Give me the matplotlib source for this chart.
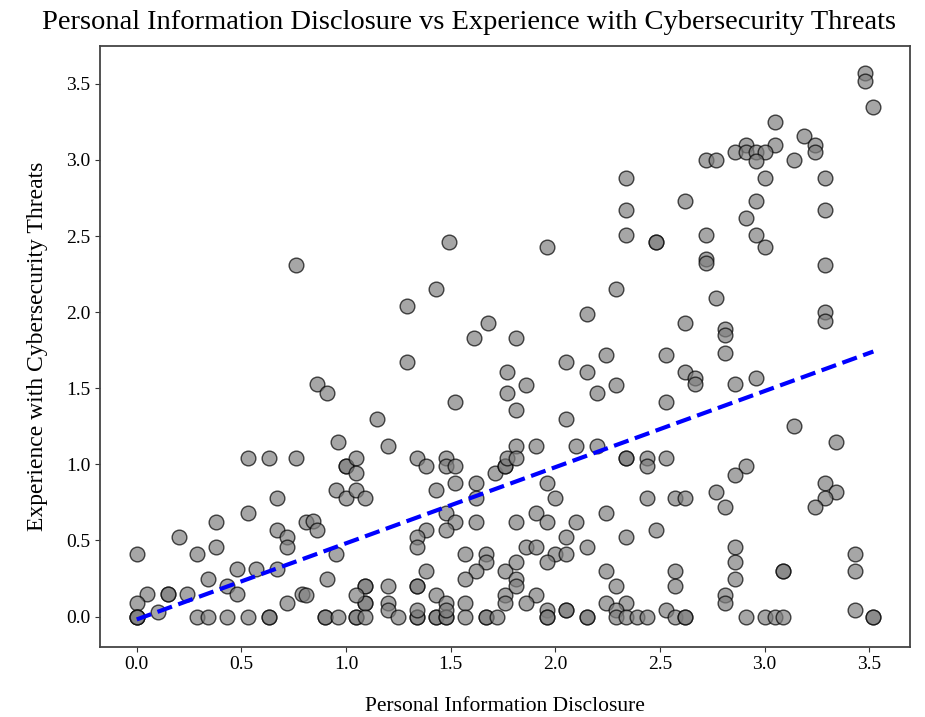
import numpy as np
import matplotlib.pyplot as plt

plt.rcParams['font.family'] = ['Liberation Serif', 'DejaVu Serif']

# (disclosure, threats) pairs
top_pts = [(3.48, 3.57), (3.48, 3.52), (3.52, 3.35), (3.05, 3.25), (3.19, 3.16), (3.24, 3.10),
           (3.24, 3.05), (2.91, 3.10), (3.05, 3.10), (2.86, 3.05), (2.91, 3.05), (2.96, 3.05),
           (3.00, 3.05), (2.96, 2.99), (2.72, 3.00), (2.77, 3.00), (3.14, 3.00), (3.00, 2.88),
           (3.29, 2.88), (2.34, 2.88), (2.62, 2.73), (2.34, 2.67), (2.96, 2.73), (2.91, 2.62),
           (3.29, 2.67), (2.96, 2.51), (3.00, 2.43), (2.72, 2.51), (2.34, 2.51), (2.48, 2.46),
           (2.48, 2.46), (1.96, 2.43), (1.49, 2.46), (0.76, 2.31), (2.72, 2.35), (2.72, 2.32),
           (3.29, 2.31), (2.77, 2.09), (3.29, 2.00), (3.29, 1.94), (2.81, 1.89), (2.81, 1.85),
           (2.81, 1.73), (2.96, 1.57), (2.86, 1.53), (3.14, 1.25), (3.34, 1.15)]

mid_pts = [(2.29, 2.15), (2.15, 1.99), (2.62, 1.93), (1.81, 1.83), (2.24, 1.72), (2.53, 1.72),
           (2.05, 1.67), (2.15, 1.61), (1.77, 1.61), (2.62, 1.61), (2.67, 1.57), (2.67, 1.53),
           (1.86, 1.52), (1.77, 1.47), (2.20, 1.47), (2.29, 1.52), (2.53, 1.41), (1.81, 1.36),
           (2.05, 1.30), (1.81, 1.12), (1.91, 1.12), (2.10, 1.12), (2.20, 1.12),
           (1.43, 2.15), (1.29, 2.04), (1.68, 1.93), (1.61, 1.83), (1.29, 1.67), (0.86, 1.53),
           (0.91, 1.47), (1.52, 1.41), (1.15, 1.30), (0.96, 1.15), (1.20, 1.12)]

low_left = [(0.53, 1.04), (0.63, 1.04), (0.76, 1.04), (0.67, 0.78), (0.53, 0.68), (0.38, 0.62),
            (0.20, 0.52), (0.67, 0.57), (0.72, 0.52), (0.72, 0.46), (0.00, 0.41), (0.29, 0.41),
            (0.38, 0.46), (0.48, 0.31), (0.57, 0.31), (0.67, 0.31), (0.34, 0.25), (0.43, 0.20),
            (0.48, 0.15), (0.72, 0.09), (0.79, 0.15), (0.05, 0.15), (0.15, 0.15), (0.15, 0.15),
            (0.24, 0.15), (0.00, 0.09), (0.10, 0.03), (0.00, 0.00), (0.00, 0.00), (0.00, 0.00),
            (0.29, 0.00), (0.34, 0.00), (0.43, 0.00), (0.53, 0.00), (0.63, 0.00), (0.63, 0.00)]

low_mid = [(1.00, 0.99), (1.00, 0.99), (1.05, 1.04), (1.05, 0.94), (1.34, 1.04), (1.38, 0.99),
           (1.48, 1.04), (1.48, 0.99), (1.52, 0.99), (1.52, 0.88), (1.62, 0.88), (1.71, 0.94),
           (1.76, 0.99), (1.76, 0.99), (0.95, 0.83), (1.00, 0.78), (1.05, 0.83), (1.09, 0.78),
           (1.43, 0.83), (1.62, 0.78), (0.81, 0.62), (0.84, 0.63), (0.86, 0.57), (0.95, 0.41),
           (0.91, 0.25), (0.81, 0.14), (1.48, 0.68), (1.52, 0.62), (1.62, 0.62), (1.38, 0.57),
           (1.48, 0.57), (1.34, 0.52), (1.34, 0.46), (1.57, 0.41), (1.67, 0.41), (1.67, 0.36),
           (1.62, 0.30), (1.57, 0.25), (1.76, 0.30), (1.38, 0.30), (1.09, 0.20), (1.09, 0.20),
           (1.09, 0.09), (1.09, 0.09), (1.05, 0.14), (1.20, 0.20), (1.20, 0.09), (1.20, 0.04),
           (1.34, 0.20), (1.34, 0.20), (1.43, 0.14), (1.48, 0.09), (1.57, 0.09), (1.76, 0.14),
           (1.76, 0.09), (0.90, 0.00), (0.90, 0.00), (0.96, 0.00), (1.05, 0.00), (1.05, 0.00),
           (1.09, 0.00), (1.25, 0.00), (1.34, 0.00), (1.34, 0.00), (1.43, 0.00), (1.43, 0.00),
           (1.48, 0.00), (1.48, 0.00), (1.57, 0.00), (1.67, 0.00), (1.67, 0.00), (1.72, 0.00),
           (1.34, 0.04), (1.48, 0.04)]

low_right = [(1.77, 1.04), (1.81, 1.04), (2.34, 1.04), (2.34, 1.04), (2.44, 1.04), (2.44, 0.99),
             (2.53, 1.04), (1.96, 0.88), (2.00, 0.78), (2.44, 0.78), (2.57, 0.78), (2.62, 0.78),
             (1.81, 0.62), (1.91, 0.68), (1.96, 0.62), (2.10, 0.62), (2.24, 0.68), (2.48, 0.57),
             (2.34, 0.52), (2.05, 0.52), (1.86, 0.46), (1.91, 0.46), (2.00, 0.41), (2.05, 0.41),
             (2.15, 0.46), (1.96, 0.36), (1.81, 0.36), (1.81, 0.25), (1.81, 0.20), (1.91, 0.14),
             (1.86, 0.09), (2.24, 0.30), (2.29, 0.20), (2.57, 0.30), (2.57, 0.20), (2.24, 0.09),
             (2.34, 0.09), (1.96, 0.04), (1.96, 0.00), (1.96, 0.00), (2.05, 0.04), (2.05, 0.04),
             (2.15, 0.00), (2.15, 0.00), (2.29, 0.04), (2.29, 0.00), (2.34, 0.00), (2.39, 0.00),
             (2.44, 0.00), (2.53, 0.04), (2.57, 0.00), (2.62, 0.00), (2.62, 0.00),
             (2.91, 0.99), (2.86, 0.93), (2.77, 0.82), (2.81, 0.72), (3.29, 0.88), (3.34, 0.82),
             (3.29, 0.78), (3.24, 0.72), (2.86, 0.46), (2.86, 0.36), (2.86, 0.25), (2.81, 0.14),
             (2.81, 0.09), (3.09, 0.30), (3.09, 0.30), (3.43, 0.41), (3.43, 0.30), (3.43, 0.04),
             (3.52, 0.00), (3.52, 0.00), (2.91, 0.00), (3.00, 0.00), (3.05, 0.00), (3.09, 0.00)]

pts = np.array(top_pts + mid_pts + low_left + low_mid + low_right)
disclosure = pts[:, 0]
threats = pts[:, 1]

fig = plt.figure(figsize=(9.25, 7.17), dpi=100)
ax = fig.add_axes([0.108, 0.098, 0.876, 0.838])

ax.scatter(disclosure, threats, s=112, color='gray', alpha=0.7, edgecolors='black', linewidths=1.0)

# linear trend
slope, intercept = np.polyfit(disclosure, threats, 1)
xs = np.array([disclosure.min(), disclosure.max()])
ax.plot(xs, slope * xs + intercept, color='blue', linestyle='--', linewidth=3)

ax.set_title('Personal Information Disclosure vs Experience with Cybersecurity Threats',
             fontsize=20.5, pad=12, x=0.456)
ax.set_xlabel('Personal Information Disclosure', fontsize=15.5, labelpad=17)
ax.set_ylabel('Experience with Cybersecurity Threats', fontsize=17, labelpad=13)
ax.set_xticks(np.arange(0, 3.6, 0.5))
ax.set_yticks(np.arange(0, 3.6, 0.5))
ax.tick_params(axis='both', labelsize=14, color='#333333')
for sp in ax.spines.values():
    sp.set_color('#444444')
    sp.set_linewidth(1.3)

plt.savefig('out.png', dpi=100)
